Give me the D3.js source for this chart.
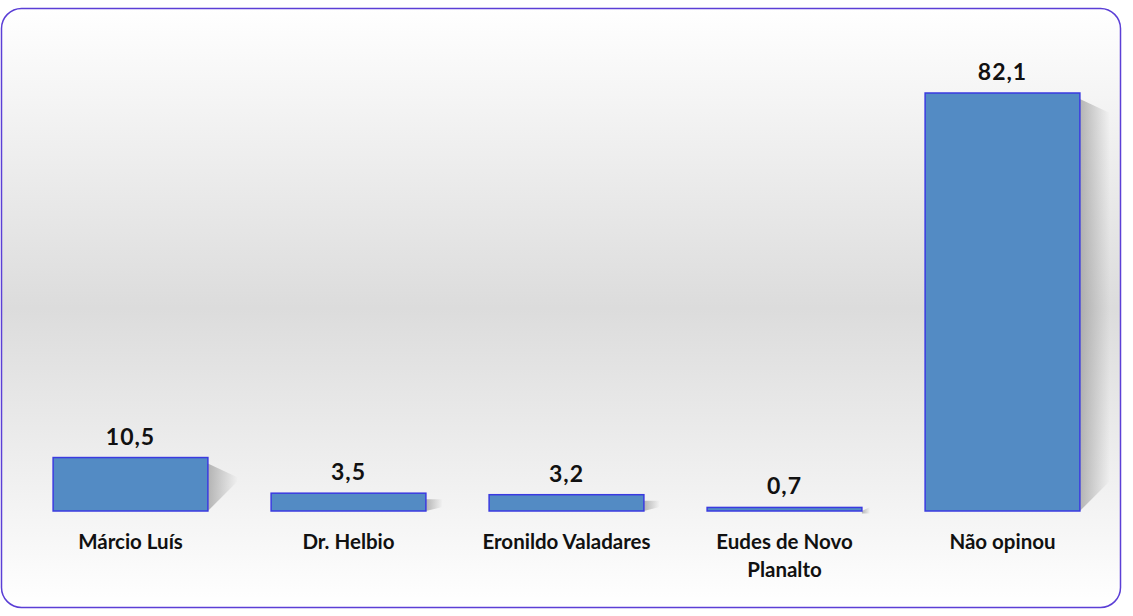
<!DOCTYPE html>
<html><head><meta charset="utf-8">
<script src="https://cdn.jsdelivr.net/npm/d3@7/dist/d3.min.js"></script>
<style>body{margin:0;background:#fff}svg{display:block}</style>
</head><body>
<script>
const categories = ["Márcio Luís", "Dr. Helbio", "Eronildo Valadares", "Eudes de Novo Planalto", "Não opinou"];
const values = [10.5, 3.5, 3.2, 0.7, 82.1];
const valueLabels = ["10,5", "3,5", "3,2", "0,7", "82,1"];
const categoryLines = [["Márcio Luís"], ["Dr. Helbio"], ["Eronildo Valadares"], ["Eudes de Novo", "Planalto"], ["Não opinou"]];

const W = 1133, H = 616;
const svg = d3.select("body").append("svg").attr("width", W).attr("height", H);
const defs = svg.append("defs");
const bg = defs.append("linearGradient").attr("id", "bg").attr("x1", 0).attr("y1", 0).attr("x2", 0).attr("y2", 1);
bg.append("stop").attr("offset", "0").attr("stop-color", "#ffffff");
bg.append("stop").attr("offset", "0.5").attr("stop-color", "#dcdcdc");
bg.append("stop").attr("offset", "1").attr("stop-color", "#ffffff");
const sh = defs.append("linearGradient").attr("id", "sh").attr("x1", 0).attr("y1", 0).attr("x2", 1).attr("y2", 0);
sh.append("stop").attr("offset", "0").attr("stop-color", "#999").attr("stop-opacity", 0.7);
sh.append("stop").attr("offset", "1").attr("stop-color", "#999").attr("stop-opacity", 0);

svg.append("rect").attr("x", 1.5).attr("y", 8.5).attr("width", 1119).attr("height", 599)
  .attr("rx", 20).attr("fill", "url(#bg)").attr("stroke", "#5b3fd6").attr("stroke-width", 1.5);

const x = d3.scaleBand().domain(categories).range([21.5, 1111.5]).paddingInner(0.29).paddingOuter(0.145);
const y = d3.scaleLinear().domain([0, 82.1]).range([511, 93]);

const g = svg.append("g");
g.selectAll("path.shadow").data(values).join("path").attr("class", "shadow")
  .attr("d", (d, i) => {
    const x1 = x(categories[i]) + x.bandwidth(), y0 = y(d), y1 = y(0);
    const w = Math.min(30, (y1 - y0) * 0.6 + 6);
    return `M${x1},${y0 + 6}L${x1 + w},${y0 + 20 > y1 ? y0 + 6 : y0 + 20}L${x1 + w},${y1 - 30 > y0 + 20 ? y1 - 30 : y1 - 4}L${x1},${y1}Z`;
  }).attr("fill", "url(#sh)");

g.selectAll("rect.bar").data(values).join("rect").attr("class", "bar")
  .attr("x", (d, i) => x(categories[i])).attr("width", x.bandwidth())
  .attr("y", d => y(d)).attr("height", d => y(0) - y(d))
  .attr("fill", "#538bc4").attr("stroke", "#3a3ae0").attr("stroke-width", 1.5);

g.selectAll("text.val").data(values).join("text").attr("class", "val")
  .attr("x", (d, i) => x(categories[i]) + x.bandwidth() / 2).attr("y", d => y(d) - 13)
  .attr("text-anchor", "middle").attr("font-family", "Lato, sans-serif").attr("font-weight", "bold")
  .attr("font-size", 23).attr("letter-spacing", 1).attr("fill", "#111").text((d, i) => valueLabels[i]);

const lab = g.selectAll("text.cat").data(categoryLines).join("text").attr("class", "cat")
  .attr("text-anchor", "middle").attr("font-family", "Lato, sans-serif").attr("font-weight", "bold")
  .attr("font-size", 20.5).attr("fill", "#111");
lab.each(function (lines, i) {
  const t = d3.select(this);
  lines.forEach((l, j) => t.append("tspan").attr("x", x(categories[i]) + x.bandwidth() / 2)
    .attr("y", 549 + j * 28).text(l));
});
</script>
</body></html>
